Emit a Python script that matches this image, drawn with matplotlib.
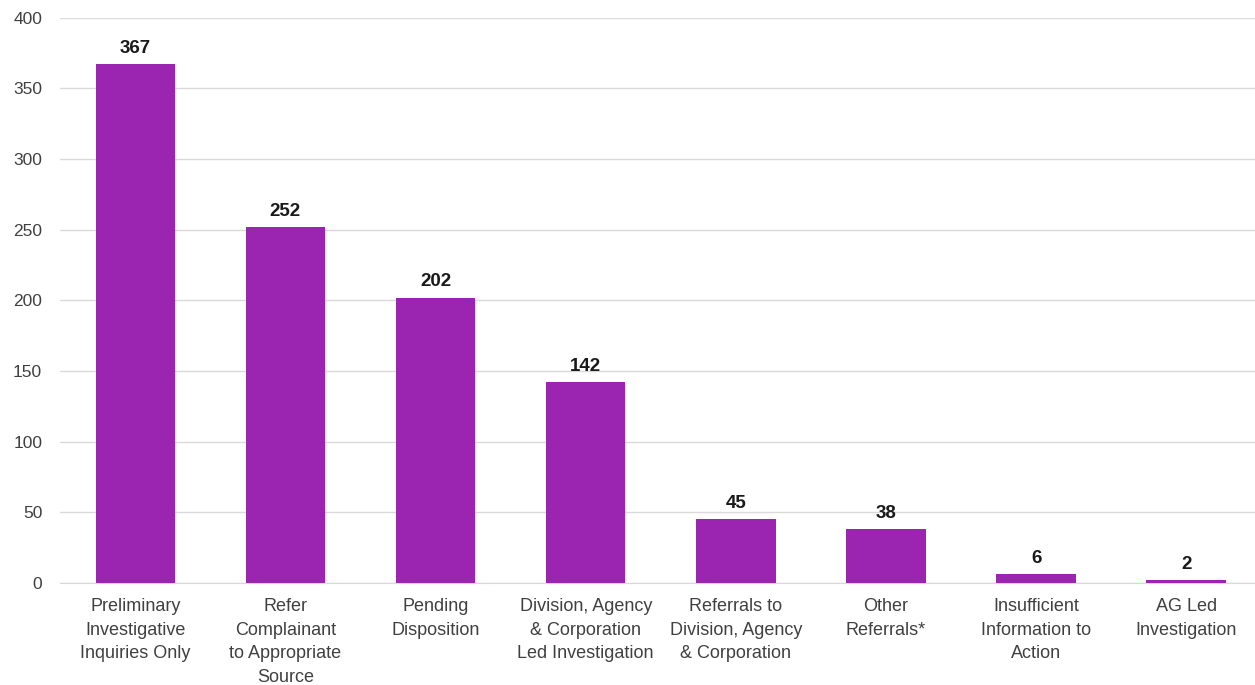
import matplotlib
matplotlib.use('Agg')
import matplotlib.pyplot as plt

categories = ['Preliminary\nInvestigative\nInquiries Only',
              'Refer\nComplainant\nto Appropriate\nSource',
              'Pending\nDisposition',
              'Division, Agency\n& Corporation\nLed Investigation',
              'Referrals to\nDivision, Agency\n& Corporation',
              'Other\nReferrals*',
              'Insufficient\nInformation to\nAction',
              'AG Led\nInvestigation']
values = [367, 252, 202, 142, 45, 38, 6, 2]
yticks = [0, 50, 100, 150, 200, 250, 300, 350, 400]

plt.rcParams['font.family'] = ['Liberation Sans', 'DejaVu Sans']

fig = plt.figure(figsize=(12.55, 6.85), dpi=100)
ax = fig.add_axes([0.048, 0.149, 0.957, 0.825])

x = range(len(values))
ax.bar(x, values, width=0.53, color='#9B24B0', zorder=3)
for i, v in enumerate(values):
    ax.text(i, v + 5, str(v), ha='center', va='bottom', fontsize=13.5,
            fontweight='bold', color='#1a1a1a')

ax.set_xlim(-0.5, 7.5)
ax.set_ylim(0, 400)
ax.set_yticks(yticks)
ax.set_xticks(list(x))
ax.set_xticklabels(categories, fontsize=13, color='#404040', linespacing=1.5)
ax.tick_params(axis='y', labelsize=12.5, colors='#404040', length=0, pad=13)
ax.tick_params(axis='x', length=0, pad=11)
ax.grid(axis='y', color='#D9D9D9', linewidth=1, zorder=0)
for s in ['top', 'right', 'left']:
    ax.spines[s].set_visible(False)
ax.spines['bottom'].set_color('#D9D9D9')

fig.savefig('out.png', dpi=100)
